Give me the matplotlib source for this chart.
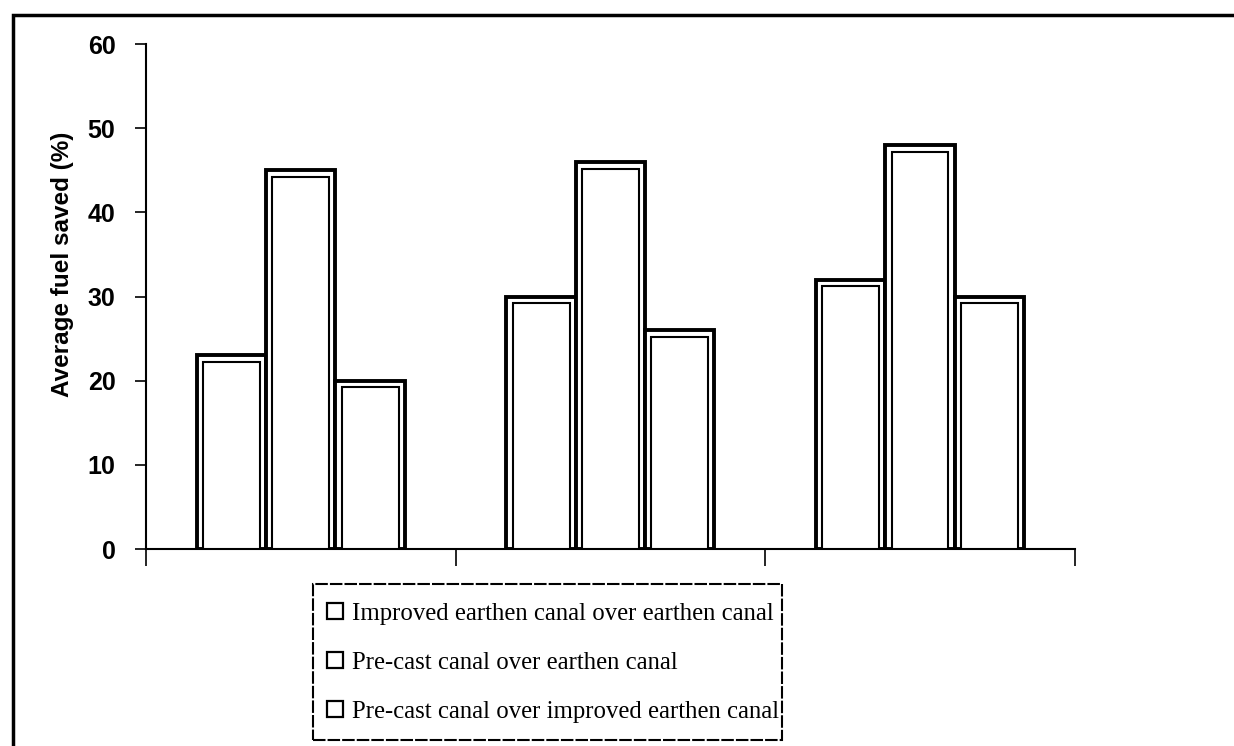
import matplotlib
matplotlib.use("Agg")
import matplotlib.pyplot as plt
from matplotlib.patches import Rectangle
from matplotlib.lines import Line2D
import numpy as np

groups = ["Group 1", "Group 2", "Group 3"]
series_names = [
    "Improved earthen canal over earthen canal",
    "Pre-cast canal over earthen canal",
    "Pre-cast canal over improved earthen canal",
]
improved_vs_earthen = [23, 30, 32]
precast_vs_earthen = [45, 46, 48]
precast_vs_improved = [20, 26, 30]
yticks = [0, 10, 20, 30, 40, 50, 60]

series = [improved_vs_earthen, precast_vs_earthen, precast_vs_improved]

fig = plt.figure(figsize=(12.34, 7.46), dpi=100)
ax = fig.add_axes([0.1183, 0.264, 0.7527, 0.677])

x = np.arange(len(groups))
bw = 0.224
offsets = [-bw, 0, bw]
for vals, off in zip(series, offsets):
    ax.bar(x + off, vals, width=bw, color="white", edgecolor="black", linewidth=2.8, zorder=2)
    inner = [v - 0.8 for v in vals]
    ax.bar(x + off, inner, width=bw - 0.04, color="white", edgecolor="black", linewidth=1.5, zorder=3)

ax.set_xlim(-0.5, 2.5)
ax.set_ylim(0, 60)
ax.set_yticks(yticks)
ax.set_xticks([-0.5, 0.5, 1.5, 2.5])
ax.set_xticklabels([])
ax.tick_params(axis="x", direction="out", length=12, width=1.2)
ax.tick_params(axis="y", direction="out", length=8, width=1.2, pad=14)
for lab in ax.get_yticklabels():
    lab.set_fontfamily("Liberation Sans")
    lab.set_fontweight("bold")
    lab.set_fontsize(18)
ax.spines["top"].set_visible(False)
ax.spines["right"].set_visible(False)
ax.spines["left"].set_linewidth(1.5)
ax.spines["bottom"].set_linewidth(1.5)
ax.set_ylabel("Average fuel saved (%)", fontfamily="Liberation Sans", fontweight="bold",
              fontsize=17.5)
ax.yaxis.set_label_coords(-0.078, 0.564)

# figure border
fig.patches.append(Rectangle((0.0105, -0.02), 1.0, 1.0,
                             transform=fig.transFigure, fill=False,
                             edgecolor="black", linewidth=2.5))

# legend frame (drawn separately to get a tight box)
fig.patches.append(Rectangle((0.2536, 0.008), 0.3801, 0.209,
                             transform=fig.transFigure, fill=False,
                             edgecolor="black", linewidth=1.5, linestyle=(0, (6, 1))))

handles = [Line2D([], [], marker="s", linestyle="none", markerfacecolor="white",
                  markeredgecolor="black", markersize=12, markeredgewidth=1.6)
           for _ in series_names]
leg = fig.legend(handles, series_names, loc="upper left", bbox_to_anchor=(0.2512, 0.217),
                 prop={"family": "Liberation Serif", "size": 17.8}, frameon=False,
                 labelspacing=1.08, handlelength=0.55, handletextpad=0.4,
                 borderpad=0.75, borderaxespad=0)

fig.savefig("out.png", dpi=100)
